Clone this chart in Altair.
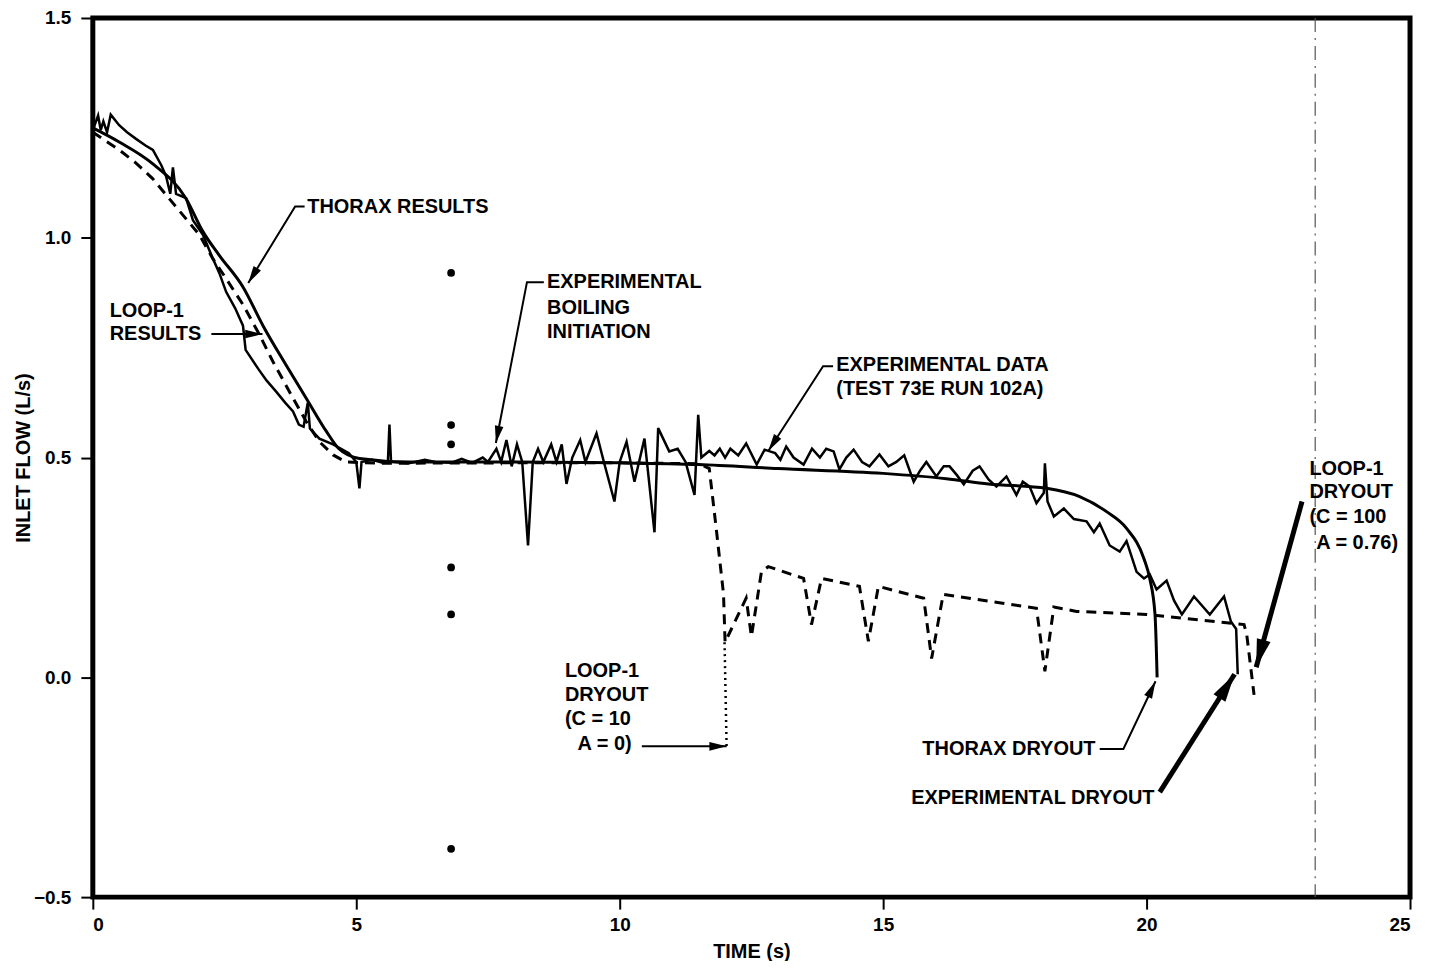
import math
import altair as alt
import pandas as pd

# ---------------- data ----------------
x_ticks = [0, 5, 10, 15, 20, 25]
y_ticks = [-0.5, 0.0, 0.5, 1.0, 1.5]

# THORAX results (solid, smooth)
thorax_t = [0.0, 0.5, 1.14, 1.77, 2.09, 2.4, 2.85, 3.23, 3.67, 4.05, 4.43, 4.67, 5.06,
            6.0, 8.0, 10.0, 11.5, 13.0, 15.0, 16.2, 17.0, 18.1, 18.73, 19.24, 19.62,
            19.95, 20.06, 20.16, 20.2]
thorax_y = [1.25, 1.218, 1.168, 1.089, 1.014, 0.96, 0.888, 0.80, 0.71, 0.635, 0.56, 0.52, 0.498,
            0.49, 0.49, 0.488, 0.484, 0.475, 0.464, 0.452, 0.44, 0.43, 0.411, 0.377, 0.339,
            0.27, 0.225, 0.143, 0.0]

# LOOP-1 results (dashed)
loop_t = [0.0, 0.5, 0.82, 1.14, 1.45, 1.77, 2.02, 2.28, 2.53, 2.85, 3.16, 3.42, 3.8, 4.05,
          4.3, 4.56, 4.8, 5.5, 8.0, 10.0, 11.5, 11.7, 11.84, 11.97, 12.0, 12.4, 12.5, 12.69,
          12.82, 13.49, 13.64, 13.83, 14.55, 14.72, 14.91, 15.77, 15.92, 16.14, 17.91, 18.07,
          18.24, 18.67, 20.0, 21.85, 21.9, 22.04]
loop_y = [1.24, 1.2, 1.17, 1.134, 1.089, 1.043, 1.007, 0.952, 0.907, 0.848, 0.78, 0.718, 0.635, 0.582,
          0.536, 0.506, 0.49, 0.487, 0.488, 0.488, 0.486, 0.475, 0.33, 0.19, 0.08, 0.18, 0.093, 0.24,
          0.252, 0.225, 0.12, 0.225, 0.207, 0.082, 0.207, 0.18, 0.043, 0.189, 0.157, 0.014,
          0.16, 0.15, 0.143, 0.12, 0.098, -0.04]

# LOOP-1 dryout (C = 10, A = 0), dotted drop
dry10_t = [11.99, 12.03]
dry10_y = [0.08, -0.165]

# Experimental data (Test 73E run 102A)
exp_t = [0.0, 0.1, 0.15, 0.2, 0.27, 0.34, 0.5, 0.65, 0.82, 1.0,
         1.14, 1.3, 1.39, 1.47, 1.52, 1.58, 1.77, 1.9, 2.09, 2.28,
         2.4, 2.53, 2.7, 2.85, 2.9, 3.15, 3.3, 3.48, 3.65, 3.8,
         3.91, 4.0, 4.08, 4.12, 4.3, 4.56, 4.86, 5.0, 5.06, 5.1,
         5.3, 5.5, 5.6, 5.63, 5.66, 6.0, 6.3, 6.5, 6.8, 7.0,
         7.2, 7.4, 7.5, 7.66, 7.75, 7.85, 7.95, 8.05, 8.15, 8.26,
         8.35, 8.45, 8.55, 8.7, 8.8, 8.9, 8.99, 9.1, 9.25, 9.35,
         9.56, 9.7, 9.9, 10.0, 10.13, 10.28, 10.47, 10.66, 10.73, 10.94,
         11.1, 11.25, 11.42, 11.49, 11.55, 11.7, 11.8, 11.9, 12.0, 12.1,
         12.25, 12.4, 12.6, 12.75, 12.95, 13.05, 13.16, 13.3, 13.49, 13.65,
         13.8, 13.92, 14.06, 14.17, 14.3, 14.44, 14.6, 14.74, 14.93, 15.1,
         15.25, 15.4, 15.58, 15.7, 15.82, 16.01, 16.15, 16.26, 16.4, 16.53,
         16.7, 16.83, 17.0, 17.15, 17.34, 17.53, 17.65, 17.78, 17.91, 18.05,
         18.07, 18.12, 18.24, 18.43, 18.62, 18.86, 19.0, 19.11, 19.3, 19.49,
         19.62, 19.81, 19.95, 20.06, 20.19, 20.38, 20.52, 20.67, 20.9, 21.2,
         21.47, 21.6, 21.7, 21.73]
exp_y = [1.245, 1.278, 1.245, 1.265, 1.24, 1.28, 1.256, 1.24, 1.225, 1.21,
         1.20, 1.165, 1.14, 1.10, 1.16, 1.10, 1.09, 1.04, 1.007, 0.952,
         0.92, 0.877, 0.84, 0.80, 0.745, 0.70, 0.675, 0.65, 0.625, 0.605,
         0.575, 0.57, 0.625, 0.566, 0.543, 0.53, 0.51, 0.49, 0.43, 0.49,
         0.495, 0.488, 0.49, 0.575, 0.49, 0.487, 0.495, 0.49, 0.488, 0.497,
         0.488, 0.50, 0.49, 0.52, 0.49, 0.54, 0.48, 0.53, 0.49, 0.30,
         0.49, 0.52, 0.49, 0.53, 0.49, 0.53, 0.44, 0.50, 0.54, 0.49,
         0.555, 0.49, 0.40, 0.49, 0.536, 0.445, 0.543, 0.33, 0.567, 0.514,
         0.52, 0.49, 0.415, 0.597, 0.50, 0.515, 0.505, 0.52, 0.50, 0.52,
         0.505, 0.532, 0.484, 0.518, 0.51, 0.495, 0.525, 0.50, 0.484, 0.52,
         0.50, 0.52, 0.514, 0.473, 0.50, 0.518, 0.49, 0.48, 0.507, 0.48,
         0.49, 0.505, 0.445, 0.47, 0.49, 0.457, 0.48, 0.48, 0.46, 0.439,
         0.47, 0.48, 0.45, 0.434, 0.457, 0.415, 0.445, 0.434, 0.396, 0.42,
         0.487, 0.40, 0.366, 0.384, 0.36, 0.355, 0.33, 0.35, 0.30, 0.286,
         0.31, 0.24, 0.225, 0.234, 0.20, 0.22, 0.175, 0.143, 0.184, 0.143,
         0.184, 0.127, 0.11, 0.007]

# scan artefacts: blots along t ~ 6.8 and a dash-dot fold line near t ~ 23.2
blot_t = [6.8, 6.8, 6.8, 6.8, 6.8, 6.8]
blot_y = [0.92, 0.574, 0.53, 0.25, 0.143, -0.39]
fold_t = [23.2]

# annotation texts (left aligned)
note_text = ["THORAX RESULTS", "LOOP-1", "RESULTS", "EXPERIMENTAL", "BOILING", "INITIATION",
             "EXPERIMENTAL DATA", "(TEST 73E RUN 102A)", "LOOP-1", "DRYOUT", "(C = 10", "A = 0)",
             "LOOP-1", "DRYOUT", "(C = 100", "A = 0.76)"]
note_t = [4.07, 0.32, 0.32, 8.62, 8.62, 8.62, 14.11, 14.11, 8.96, 8.96, 8.96, 9.2,
          23.09, 23.09, 23.09, 23.22]
note_y = [1.071, 0.833, 0.781, 0.899, 0.84, 0.785, 0.711, 0.656, 0.014, -0.041, -0.095, -0.152,
          0.474, 0.422, 0.365, 0.306]
# annotation texts (right aligned)
rnote_text = ["THORAX DRYOUT", "EXPERIMENTAL DRYOUT"]
rnote_t = [19.03, 20.15]
rnote_y = [-0.163, -0.275]

# leader lines (last point = arrow tip)
thin_leaders = {
    "thorax_res": ([4.02, 3.84, 2.95], [1.071, 1.071, 0.897]),
    "loop_res": ([2.25, 3.22], [0.781, 0.781]),
    "boiling": ([8.56, 8.24, 7.65], [0.899, 0.899, 0.533]),
    "exp_data": ([14.05, 13.86, 12.82], [0.708, 0.708, 0.515]),
    "dry10": ([10.42, 12.03], [-0.157, -0.157]),
    "thorax_dry": ([19.11, 19.56, 20.17], [-0.163, -0.163, -0.009]),
}
thick_leaders = {
    "exp_dry": ([20.25, 21.67], [-0.261, 0.007]),
    "dry100": ([22.95, 22.08], [0.40, 0.023]),
}

# ---------------- chart ----------------
W, H = 1320, 881
SX = W / 25.0
SY = H / 2.0
FONT = "Liberation Sans"


def line_df(ts, ys, name):
    assert len(ts) == len(ys)
    return pd.DataFrame({"t": ts, "y": ys, "i": list(range(len(ts))), "g": [name] * len(ts)})


def leader_df(d):
    return pd.concat([line_df(ts, ys, k) for k, (ts, ys) in d.items()], ignore_index=True)


def heads_df(d, size):
    rows = []
    r = math.sqrt(size) / 2.0
    for k, (ts, ys) in d.items():
        dx = (ts[-1] - ts[-2]) * SX
        dy = -(ys[-1] - ys[-2]) * SY
        n = math.hypot(dx, dy)
        ux, uy = dx / n, dy / n
        ang = math.degrees(math.atan2(dx, -dy)) % 360
        rows.append({"t": ts[-1] - ux * r / SX, "y": ys[-1] + uy * r / SY,
                     "angle": ang, "size": size})
    return pd.DataFrame(rows)


X = alt.X("t:Q", scale=alt.Scale(domain=[0, 25], nice=False, zero=False),
          axis=alt.Axis(values=x_ticks, format="d", title="TIME (s)", titleY=55,
                        titleBaseline="middle", tickSize=12, labelPadding=6))
Y = alt.Y("y:Q", scale=alt.Scale(domain=[-0.5, 1.5], nice=False, zero=False),
          axis=alt.Axis(values=y_ticks, format=".1f", title="INLET FLOW (L/s)",
                        titleX=-69, titleY=H / 2, titleAlign="center", titleBaseline="middle",
                        titleAngle=270, tickSize=12, labelPadding=10))

fold = alt.Chart(pd.DataFrame({"t": fold_t, "y": [1.5], "y2": [-0.5]})).mark_rule(
    color="#555555", strokeWidth=1.2, strokeDash=[14, 6, 2, 6]
).encode(x=X, y=Y, y2="y2:Q")

blots = alt.Chart(pd.DataFrame({"t": blot_t, "y": blot_y})).mark_point(
    filled=True, color="black", size=60, opacity=1
).encode(x=X, y=Y)

loop = alt.Chart(line_df(loop_t, loop_y, "loop")).mark_line(
    color="black", strokeWidth=3, strokeDash=[10, 7]
).encode(x=X, y=Y, order="i:Q")

dry10 = alt.Chart(line_df(dry10_t, dry10_y, "dry10")).mark_line(
    color="black", strokeWidth=2.5, strokeDash=[2, 4]
).encode(x=X, y=Y, order="i:Q")

thorax = alt.Chart(line_df(thorax_t, thorax_y, "thorax")).mark_line(
    color="black", strokeWidth=3, interpolate="monotone"
).encode(x=X, y=Y, order="i:Q")

exp = alt.Chart(line_df(exp_t, exp_y, "exp")).mark_line(
    color="black", strokeWidth=2.5
).encode(x=X, y=Y, order="i:Q")

thin = alt.Chart(leader_df(thin_leaders)).mark_line(color="black", strokeWidth=2).encode(
    x=X, y=Y, detail="g:N", order="i:Q")
thick = alt.Chart(leader_df(thick_leaders)).mark_line(color="black", strokeWidth=5).encode(
    x=X, y=Y, detail="g:N", order="i:Q")

HEAD = "M0,-1L0.5,1L-0.5,1Z"
heads_thin = alt.Chart(heads_df(thin_leaders, 300)).mark_point(
    shape=HEAD, filled=True, color="black", opacity=1, strokeWidth=0
).encode(x=X, y=Y, angle=alt.Angle("angle:Q", scale=None), size=alt.Size("size:Q", scale=None))
heads_thick = alt.Chart(heads_df(thick_leaders, 800)).mark_point(
    shape=HEAD, filled=True, color="black", opacity=1, strokeWidth=0
).encode(x=X, y=Y, angle=alt.Angle("angle:Q", scale=None), size=alt.Size("size:Q", scale=None))

texts_l = alt.Chart(pd.DataFrame({"t": note_t, "y": note_y, "text": note_text})).mark_text(
    font=FONT, fontWeight="bold", fontSize=20, color="black", align="left", baseline="middle"
).encode(x=X, y=Y, text="text:N")
texts_r = alt.Chart(pd.DataFrame({"t": rnote_t, "y": rnote_y, "text": rnote_text})).mark_text(
    font=FONT, fontWeight="bold", fontSize=20, color="black", align="right", baseline="middle"
).encode(x=X, y=Y, text="text:N")

chart = alt.layer(
    fold, blots, loop, dry10, thorax, exp, thin, thick, heads_thin, heads_thick, texts_l, texts_r
).properties(
    width=W, height=H,
    padding={"left": 85, "top": 9, "right": 12, "bottom": 63},
    autosize=alt.AutoSizeParams(type="none"),
    background="white",
).configure_view(
    stroke="black", strokeWidth=5
).configure_axis(
    labelFont=FONT, labelFontWeight="bold", labelFontSize=19, labelColor="black",
    titleFont=FONT, titleFontWeight="bold", titleFontSize=20, titleColor="black",
    tickColor="black", tickWidth=2, domain=False, grid=False,
)

chart.save("out.html", embed_options={"renderer": "svg", "actions": False})
